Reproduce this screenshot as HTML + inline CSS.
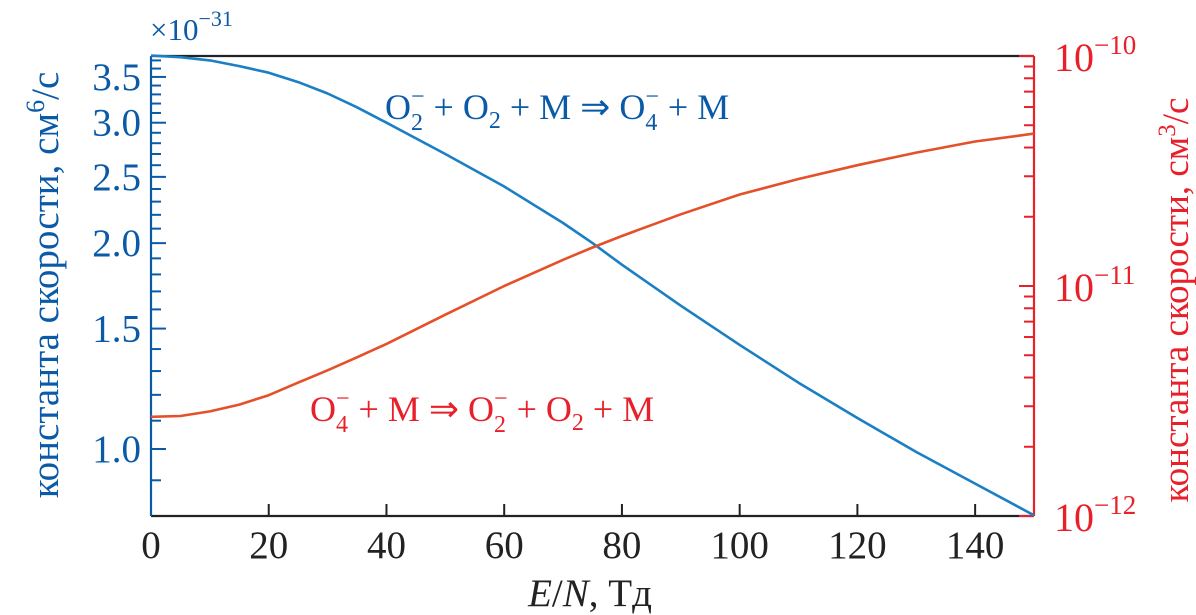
<!DOCTYPE html>
<html><head><meta charset="utf-8"><style>
html,body{margin:0;padding:0;background:#fff;width:1196px;height:615px;overflow:hidden}
svg{display:block}
svg text{font-family:"Liberation Serif",serif}
</style></head><body>
<svg id="chart" width="1196" height="615" viewBox="0 0 1196 615"></svg>
<script>
const xVals=[0,5,10,15,20,25,30,35,40,50,60,70,75,80,90,100,110,120,130,140,150];
const blueVals=[3.76,3.74,3.70,3.63,3.55,3.44,3.31,3.16,3.0,2.70,2.42,2.14,2.0,1.86,1.62,1.42,1.25,1.11,0.99,0.89,0.80];
const redVals=[2.7e-12,2.72e-12,2.85e-12,3.05e-12,3.35e-12,3.8e-12,4.3e-12,4.9e-12,5.6e-12,7.5e-12,1.0e-11,1.3e-11,1.47e-11,1.65e-11,2.05e-11,2.5e-11,2.92e-11,3.35e-11,3.8e-11,4.25e-11,4.6e-11];
const xTicks=[0,20,40,60,80,100,120,140];
const leftMajor=[1.0,1.5,2.0,2.5,3.0,3.5];
const leftLabels=["1.0","1.5","2.0","2.5","3.0","3.5"];
const leftMinor=[0.9,1.1,1.2,1.3,1.4,1.6,1.7,1.8,1.9,2.1,2.2,2.3,2.4,2.6,2.7,2.8,2.9,3.1,3.2,3.3,3.4,3.6,3.7];
const rightDecades=[-12,-11,-10];

const L=151,R=1034,T=56,B=516;
const BLUE="#0a5aa8",RED="#e8202a";
const sx=v=>L+(v-0)/(150-0)*(R-L);
const yl=v=>449-Math.log(v)*297;
const yr=v=>B-(Math.log10(v)+12)*(B-T)/2;
const svg=document.getElementById('chart');
const NS="http://www.w3.org/2000/svg";
function mk(tag,a,parent){const e=document.createElementNS(NS,tag);for(const k in a)e.setAttribute(k,a[k]);if(tag==='text')e.setAttribute('font-family','Liberation Serif, serif');(parent||svg).appendChild(e);return e;}

let e;
e=mk('line',{x1:L,y1:T,x2:R,y2:T,stroke:'#222','stroke-width':2.2});

e=mk('line',{x1:L,y1:B,x2:R,y2:B,stroke:'#222','stroke-width':2.2});

xTicks.forEach(v=>{
 e=mk('line',{x1:sx(v),y1:B,x2:sx(v),y2:B-12,stroke:'#222','stroke-width':2});
 
 e=mk('text',{x:sx(v),y:B+42,'text-anchor':'middle','font-size':39,fill:'#222'});e.textContent=v;
 
});
e=mk('text',{x:590,y:606,'text-anchor':'middle','font-size':39,fill:'#222'});
e.innerHTML='<tspan font-style="italic">E</tspan>/<tspan font-style="italic">N</tspan>, Тд';


e=mk('line',{x1:L,y1:T,x2:L,y2:B,stroke:BLUE,'stroke-width':2.2});

leftMajor.forEach((v,i)=>{
 e=mk('line',{x1:L,y1:yl(v),x2:L+15,y2:yl(v),stroke:BLUE,'stroke-width':2});
 
 e=mk('text',{x:L-10,y:yl(v)+13,'text-anchor':'end','font-size':39,fill:BLUE});e.textContent=leftLabels[i];
 
});
leftMinor.forEach(v=>{
 e=mk('line',{x1:L,y1:yl(v),x2:L+10,y2:yl(v),stroke:BLUE,'stroke-width':2});
 
});
e=mk('text',{x:150,y:40,'font-size':31,fill:BLUE});
e.innerHTML='×10<tspan dy="-14" font-size="22">−31</tspan>';

e=mk('text',{x:0,y:0,'text-anchor':'middle','font-size':39,fill:BLUE,transform:'translate(58,285) rotate(-90)'});
e.innerHTML='константа скорости, см<tspan dy="-14" font-size="26">6</tspan><tspan dy="14">/с</tspan>';


e=mk('line',{x1:R,y1:T,x2:R,y2:B,stroke:RED,'stroke-width':2.2});

rightDecades.forEach((d,i)=>{
 const y=yr(Math.pow(10,d));
 e=mk('line',{x1:R,y1:y,x2:R-15,y2:y,stroke:RED,'stroke-width':2});
 
 e=mk('text',{x:R+20,y:y+15,'font-size':40,fill:RED});
 e.innerHTML='10<tspan dy="-17" font-size="27">−'+(-d)+'</tspan>';
 
 if(i<rightDecades.length-1){for(let m=2;m<=9;m++){
  const ym=yr(m*Math.pow(10,d));
  e=mk('line',{x1:R,y1:ym,x2:R-10,y2:ym,stroke:RED,'stroke-width':2});
  
 }}
});
e=mk('text',{x:0,y:0,'text-anchor':'middle','font-size':37,fill:RED,transform:'translate(1188,300) rotate(-90)'});
e.innerHTML='константа скорости, см<tspan dy="-13" font-size="25">3</tspan><tspan dy="13">/с</tspan>';


function path(xs,ys,fy){return xs.map((x,i)=>(i?'L':'M')+sx(x).toFixed(1)+','+fy(ys[i]).toFixed(1)).join('');}
e=mk('path',{d:path(xVals,blueVals,yl),fill:'none',stroke:'#1a7fc4','stroke-width':2.6,'stroke-linejoin':'round'});

e=mk('path',{d:path(xVals,redVals,yr),fill:'none',stroke:'#e4502a','stroke-width':2.6,'stroke-linejoin':'round'});


e=mk('text',{x:385,y:119,'font-size':36,fill:BLUE});
e.innerHTML='O<tspan dy="11" font-size="24">2</tspan><tspan dy="-26" dx="-12" font-size="24">−</tspan><tspan dy="15"> + O</tspan><tspan dy="9" font-size="24">2</tspan><tspan dy="-9"> + M ⇒ O</tspan><tspan dy="11" font-size="24">4</tspan><tspan dy="-26" dx="-12" font-size="24">−</tspan><tspan dy="15"> + M</tspan>';

e=mk('text',{x:310,y:421,'font-size':36,fill:RED});
e.innerHTML='O<tspan dy="11" font-size="24">4</tspan><tspan dy="-26" dx="-12" font-size="24">−</tspan><tspan dy="15"> + M ⇒ O</tspan><tspan dy="11" font-size="24">2</tspan><tspan dy="-26" dx="-12" font-size="24">−</tspan><tspan dy="15"> + O</tspan><tspan dy="9" font-size="24">2</tspan><tspan dy="-9"> + M</tspan>';

</script>
</body></html>
